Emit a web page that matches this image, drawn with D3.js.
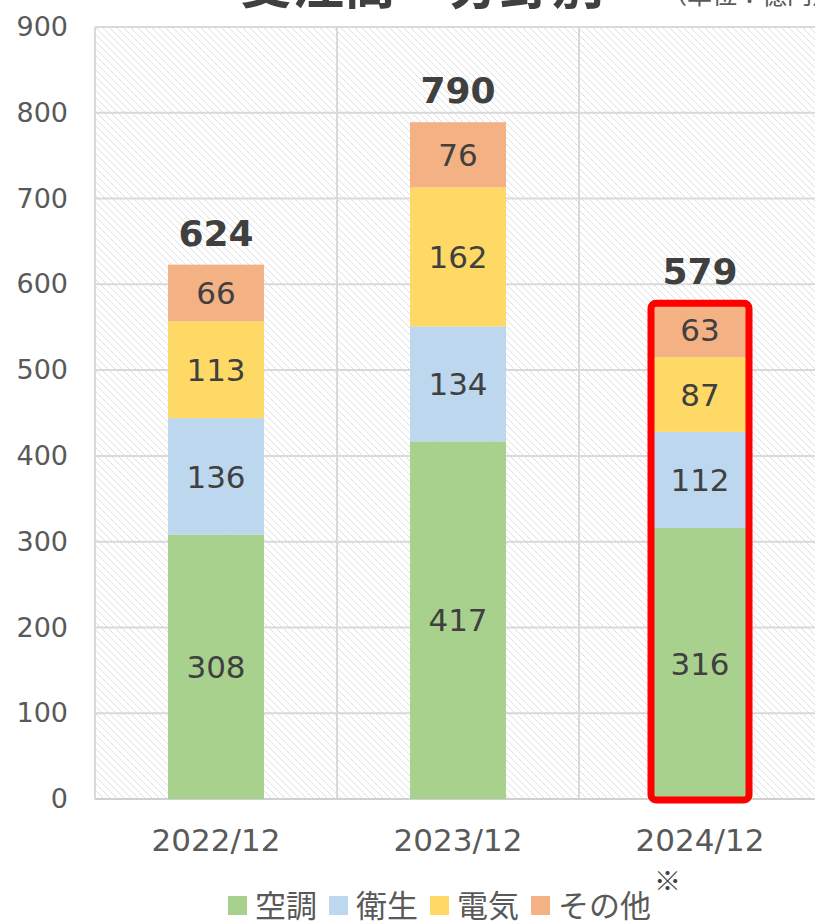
<!DOCTYPE html>
<html>
<head>
<meta charset="utf-8">
<script src="https://cdn.jsdelivr.net/npm/d3@7"></script>
<style>
  body { margin: 0; background: #fff; }
  svg { display: block; }
  text { font-family: "DejaVu Sans", "Noto Sans CJK JP", sans-serif; }
</style>
</head>
<body>
<svg id="chart" width="815" height="922"></svg>
<script>
// data
var years = ["2022/12", "2023/12", "2024/12"];
var fields = ["空調", "衛生", "電気", "その他"];
var aircon = [308, 417, 316];
var sanitary = [136, 134, 112];
var electric = [113, 162, 87];
var other = [66, 76, 63];
var totals = [624, 790, 579];
var yTicks = [0, 100, 200, 300, 400, 500, 600, 700, 800, 900];
var colors = ["#A9D18E", "#BDD7EE", "#FFD966", "#F4B183"];

var svg = d3.select("#chart");
var margin = { left: 95, top: 27, right: -6, bottom: 123 };
var width = 815 - margin.left - margin.right;
var height = 922 - margin.top - margin.bottom;

// hatch pattern for the plot background
var defs = svg.append("defs");
defs.append("pattern")
    .attr("id", "hatch")
    .attr("patternUnits", "userSpaceOnUse")
    .attr("width", 7)
    .attr("height", 7)
    .append("path")
    .attr("d", "M-1,-1 L8,8 M-1,6 L1,8 M6,-1 L8,1")
    .attr("stroke", "#dedede")
    .attr("stroke-width", 1);

// title, mostly cut off at the top (as in the source image)
svg.append("text")
    .attr("x", 240)
    .attr("y", 4)
    .attr("font-size", 52)
    .attr("font-weight", "bold")
    .attr("fill", "#404040")
    .style("font-family", "'Noto Sans CJK JP'")
    .text("受注高・分野別");
svg.append("text")
    .attr("x", 662)
    .attr("y", 4)
    .attr("font-size", 25)
    .attr("fill", "#595959")
    .style("font-family", "'Noto Sans CJK JP'")
    .text("（単位：億円）");

var g = svg.append("g").attr("transform", "translate(" + margin.left + "," + margin.top + ")");

var x = d3.scaleBand().domain(years).range([0, width]).paddingInner(0).paddingOuter(0);
var y = d3.scaleLinear().domain([0, 900]).range([height, 0]);
var barWidth = 96;

g.append("rect")
    .attr("width", width)
    .attr("height", height)
    .attr("fill", "url(#hatch)");

// horizontal gridlines
g.selectAll(".hgrid")
    .data(yTicks)
    .enter()
    .append("line")
    .attr("x1", 0)
    .attr("x2", width)
    .attr("y1", d => y(d))
    .attr("y2", d => y(d))
    .attr("stroke", "#d9d9d9")
    .attr("stroke-width", 2);

// vertical gridlines at band edges
g.selectAll(".vgrid")
    .data(years)
    .enter()
    .append("line")
    .attr("x1", d => x(d))
    .attr("x2", d => x(d))
    .attr("y1", 0)
    .attr("y2", height)
    .attr("stroke", "#d9d9d9")
    .attr("stroke-width", 2);

// y axis labels
var yAxis = g.append("g").call(d3.axisLeft(y).tickValues(yTicks).tickSize(0).tickPadding(27));
yAxis.select(".domain").remove();
yAxis.selectAll("text")
    .attr("font-size", 27)
    .attr("fill", "#595959")
    .style("font-family", "'DejaVu Sans'");

// bottom axis line
g.append("line")
    .attr("x1", 0)
    .attr("x2", width)
    .attr("y1", height)
    .attr("y2", height)
    .attr("stroke", "#d0d0d0")
    .attr("stroke-width", 2);

// x axis labels
var xAxis = g.append("g")
    .attr("transform", "translate(0," + height + ")")
    .call(d3.axisBottom(x).tickSize(0).tickPadding(30));
xAxis.select(".domain").remove();
xAxis.selectAll("text")
    .attr("font-size", 31)
    .attr("fill", "#595959")
    .style("font-family", "'DejaVu Sans'");

// stacked series
var rows = years.map((yr, i) => ({
    year: yr,
    "空調": aircon[i],
    "衛生": sanitary[i],
    "電気": electric[i],
    "その他": other[i]
}));
var stack = d3.stack().keys(fields)(rows);

var layers = g.selectAll(".layer")
    .data(stack)
    .enter()
    .append("g")
    .attr("fill", (d, i) => colors[i]);

layers.selectAll("rect")
    .data(d => d)
    .enter()
    .append("rect")
    .attr("x", d => x(d.data.year) + x.bandwidth() / 2 - barWidth / 2)
    .attr("width", barWidth)
    .attr("y", d => y(d[1]))
    .attr("height", d => y(d[0]) - y(d[1]));

layers.selectAll("text")
    .data(d => d)
    .enter()
    .append("text")
    .attr("x", d => x(d.data.year) + x.bandwidth() / 2)
    .attr("y", d => (y(d[0]) + y(d[1])) / 2)
    .attr("dy", "0.36em")
    .attr("text-anchor", "middle")
    .attr("font-size", 31)
    .attr("fill", "#404040")
    .text(d => d[1] - d[0]);

// totals
g.selectAll(".total")
    .data(years)
    .enter()
    .append("text")
    .attr("x", d => x(d) + x.bandwidth() / 2)
    .attr("y", (d, i) => y(totals[i]) - 18)
    .attr("text-anchor", "middle")
    .attr("font-size", 36)
    .attr("font-weight", "bold")
    .attr("fill", "#404040")
    .text((d, i) => totals[i]);

// red highlight around the latest bar
var last = years.length - 1;
g.append("rect")
    .attr("x", x(years[last]) + x.bandwidth() / 2 - barWidth / 2 - 1)
    .attr("width", barWidth + 2)
    .attr("y", y(totals[last]) + 1)
    .attr("height", y(0) - y(totals[last]))
    .attr("rx", 5)
    .attr("fill", "none")
    .attr("stroke", "#FF0000")
    .attr("stroke-width", 7);

// note mark under the latest label
svg.append("text")
    .attr("x", margin.left + x(years[last]) + x.bandwidth() / 2 - 46)
    .attr("y", 891)
    .attr("font-size", 27)
    .attr("fill", "#404040")
    .style("font-family", "'Noto Sans CJK JP'")
    .text("※");

// legend
var legend = svg.append("g").attr("transform", "translate(0,905)");
var lx = 228;
fields.forEach((f, i) => {
    legend.append("rect")
        .attr("x", lx)
        .attr("y", -9)
        .attr("width", 19)
        .attr("height", 19)
        .attr("fill", colors[i]);
    var t = legend.append("text")
        .attr("x", lx + 27)
        .attr("y", 0)
        .attr("dy", "0.38em")
        .attr("font-size", 31)
        .attr("fill", "#595959")
        .style("font-family", "'Noto Sans CJK JP'")
        .text(f);
    lx += 27 + t.node().getComputedTextLength() + 12;
});
</script>
</body>
</html>
